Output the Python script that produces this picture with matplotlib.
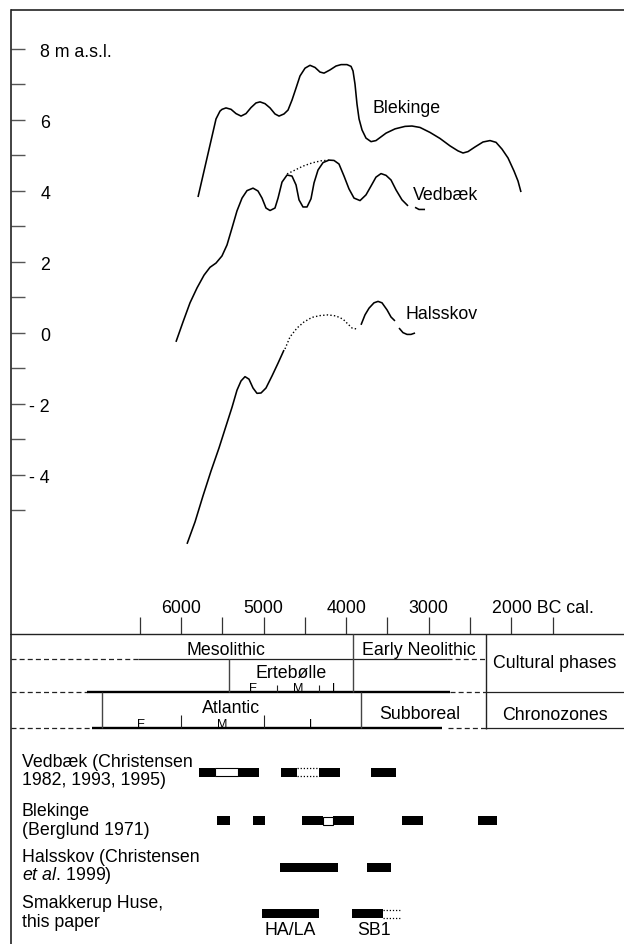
import matplotlib
matplotlib.use('Agg')
import matplotlib.pyplot as plt

plt.rcParams['font.family'] = ['Liberation Sans', 'DejaVu Sans']
plt.rcParams['mathtext.fontset'] = 'custom'
plt.rcParams['mathtext.rm'] = 'Liberation Sans'
plt.rcParams['mathtext.it'] = 'Liberation Sans:italic'
FS = 12.8

# ---------------- data: sea-level curves (years BC cal., m a.s.l.) ----------------
blekinge_year = [5794, 5576, 5528, 5503, 5455, 5394, 5334, 5273, 5213, 5152, 5092, 5043,
                 4983, 4922, 4862, 4813, 4753, 4704, 4656, 4607, 4559, 4498, 4438, 4377,
                 4317, 4268, 4196, 4123, 4062, 3990, 3941, 3917, 3893, 3869, 3844, 3808,
                 3760, 3699, 3639, 3517, 3408, 3287, 3203, 3106, 2985, 2864, 2742, 2646,
                 2585, 2524, 2440, 2343, 2258, 2185, 2113, 2040, 1967, 1919, 1883]
blekinge_m = [3.83, 6.03, 6.25, 6.30, 6.34, 6.30, 6.18, 6.11, 6.18, 6.35, 6.48, 6.51,
              6.46, 6.34, 6.17, 6.11, 6.17, 6.28, 6.56, 6.90, 7.24, 7.46, 7.54, 7.48,
              7.35, 7.32, 7.41, 7.52, 7.56, 7.56, 7.51, 7.38, 7.01, 6.45, 6.03, 5.72,
              5.49, 5.39, 5.42, 5.63, 5.75, 5.82, 5.83, 5.79, 5.65, 5.48, 5.27, 5.13,
              5.07, 5.11, 5.24, 5.38, 5.42, 5.37, 5.18, 4.93, 4.56, 4.28, 3.97]

vedbaek_year = [6061, 5976, 5891, 5806, 5721, 5649, 5576, 5504, 5443, 5382, 5322, 5261,
                5201, 5128, 5068, 5019, 4971, 4922, 4862, 4825, 4777, 4716, 4656, 4607,
                4571, 4523, 4474, 4426, 4389, 4341, 4280, 4208, 4147, 4087, 4026, 3966,
                3905, 3832, 3760, 3699, 3639, 3578, 3517, 3457, 3396, 3324, 3251]
vedbaek_m = [-0.25, 0.31, 0.85, 1.27, 1.63, 1.85, 1.97, 2.17, 2.48, 2.96, 3.44, 3.80,
             4.01, 4.08, 4.00, 3.80, 3.52, 3.45, 3.52, 3.80, 4.25, 4.45, 4.42, 4.17,
             3.75, 3.55, 3.55, 3.78, 4.23, 4.59, 4.80, 4.87, 4.86, 4.76, 4.42, 4.06,
             3.80, 3.73, 3.89, 4.14, 4.39, 4.49, 4.44, 4.31, 4.03, 3.75, 3.58]
vedbaek_tail_year = [3166, 3118, 3045]
vedbaek_tail_m = [3.54, 3.48, 3.48]
vedbaek_dot_year = [4716, 4619, 4523, 4414, 4305, 4196]
vedbaek_dot_m = [4.48, 4.59, 4.70, 4.79, 4.85, 4.87]

halsskov_low_year = [5927, 5830, 5734, 5637, 5540, 5455, 5382, 5322, 5273, 5225, 5177,
                     5128, 5080, 5031, 4971, 4898, 4825, 4753]
halsskov_low_m = [-5.94, -5.32, -4.59, -3.89, -3.24, -2.62, -2.09, -1.61, -1.35, -1.23,
                  -1.30, -1.55, -1.70, -1.69, -1.55, -1.21, -0.85, -0.48]
halsskov_dot_year = [4741, 4680, 4595, 4511, 4414, 4317, 4220, 4123, 4038, 3978, 3929, 3869]
halsskov_dot_m = [-0.45, -0.11, 0.14, 0.31, 0.44, 0.49, 0.51, 0.48, 0.39, 0.25, 0.14, 0.11]
halsskov_up_year = [3820, 3772, 3723, 3663, 3614, 3566, 3505, 3457, 3409]
halsskov_up_m = [0.23, 0.51, 0.70, 0.85, 0.89, 0.85, 0.65, 0.45, 0.34]
halsskov_tail_year = [3360, 3312, 3263, 3215, 3166]
halsskov_tail_m = [0.14, 0.01, -0.04, -0.04, 0.00]

curve_labels = ['Blekinge', 'Vedbæk', 'Halsskov']
curve_label_year = [3679, 3194, 3287]
curve_label_m = [6.22, 3.78, 0.42]

year_ticks = [6500, 6000, 5500, 5000, 4500, 4000, 3500, 3000, 2500, 2000, 1500]
year_labels = {6000: '6000', 5000: '5000', 4000: '4000', 3000: '3000', 2000: '2000 BC cal.'}
m_ticks = [8, 7, 6, 5, 4, 3, 2, 1, 0, -1, -2, -3, -4, -5]
m_labels = {8: '8 m a.s.l.', 6: '6', 4: '4', 2: '2', 0: '0', -2: '- 2', -4: '- 4'}

# ---------------- data: cultural phases / chronozones ----------------
meso_neo_boundary = 3920
ertebolle_start = 5420
ertebolle_sub = [4840, 4330]
ertebolle_sub_labels = ['E', 'M', 'L']
atlantic_start = 6960
atlantic_end = 3820
atlantic_sub = [6000, 5000]
atlantic_sub_labels = ['E', 'M', 'L']
column_edge = 2310

# ---------------- data: occupation / transgression bars ----------------
site_label_lines = [['Vedbæk (Christensen', '1982, 1993, 1995)'],
                    ['Blekinge', '(Berglund 1971)'],
                    ['Halsskov (Christensen', r'$\mathit{et\ al}$. 1999)'],
                    ['Smakkerup Huse,', 'this paper']]
vedbaek_solid = [(5780, 5590), (5310, 5060), (4790, 4590), (4330, 4070), (3700, 3400)]
vedbaek_open = [(5590, 5310)]
vedbaek_dotted = [(4590, 4330)]
blekinge_solid = [(5560, 5410), (5130, 4980), (4530, 4280), (4160, 3910), (3320, 3070), (2400, 2170)]
blekinge_open = [(4280, 4160)]
halsskov_solid = [(4800, 4100), (3750, 3460)]
smakkerup_solid = [(5020, 4330), (3930, 3560)]
smakkerup_dotted = [(3560, 3330)]
smakkerup_phase_labels = ['HA/LA', 'SB1']
smakkerup_phase_year = [4675, 3660]

# ---------------- layout ----------------
W, H = 624, 945
SPLIT = 635
XL = (8192, 635.5)
LEFT_FRAME = 8059
fig = plt.figure(figsize=(W / 100, H / 100), dpi=100)
ax = fig.add_axes([0, 1 - SPLIT / H, 1, SPLIT / H])
axb = fig.add_axes([0, 0, 1, (H - SPLIT) / H])
ax.set_xlim(*XL)
axb.set_xlim(*XL)
ax.set_ylim(-8.479, 9.408)
axb.set_ylim(H, SPLIT)
axb.axis('off')

LC = '#222222'
# upper frame
ax.spines['top'].set_visible(False)
ax.spines['right'].set_visible(False)
ax.spines['left'].set_position(('data', LEFT_FRAME))
ax.spines['left'].set_bounds(-8.479, 9.099)
ax.spines['left'].set_linewidth(1.2)
ax.spines['left'].set_color(LC)
ax.spines['bottom'].set_bounds(LEFT_FRAME, XL[1])
ax.spines['bottom'].set_linewidth(1.0)
ax.spines['bottom'].set_color(LC)
ax.hlines(9.099, LEFT_FRAME, XL[1], color=LC, lw=1.2)
ax.set_yticks(m_ticks)
ax.set_xticks(year_ticks)
ax.tick_params(axis='y', direction='in', length=10.1, width=1.0, colors='#555555', labelleft=False)
ax.tick_params(axis='x', direction='in', length=12.2, width=0.9, colors='#333333', labelbottom=False)

for t, s in m_labels.items():
    if t == 8:
        ax.text(7704, t - 0.186, s, ha='left', va='baseline', fontsize=FS)
    else:
        ax.text(7586, t - 0.186, s, ha='right', va='baseline', fontsize=FS)
for t, s in year_labels.items():
    if t == 2000:
        ax.text(2240, -7.868, s, ha='left', va='baseline', fontsize=FS)
    else:
        ax.text(t, -7.868, s, ha='center', va='baseline', fontsize=FS)

# curves
kw = dict(color='black', lw=1.15, solid_joinstyle='round', solid_capstyle='butt')
dkw = dict(color='black', lw=1.0, ls=(0, (1, 1.6)))
ax.plot(blekinge_year, blekinge_m, **kw)
ax.plot(vedbaek_year, vedbaek_m, **kw)
ax.plot(vedbaek_tail_year, vedbaek_tail_m, **kw)
ax.plot(vedbaek_dot_year, vedbaek_dot_m, **dkw)
ax.plot(halsskov_low_year, halsskov_low_m, **kw)
ax.plot(halsskov_dot_year, halsskov_dot_m, **dkw)
ax.plot(halsskov_up_year, halsskov_up_m, **kw)
ax.plot(halsskov_tail_year, halsskov_tail_m, **kw)
for s, x, y in zip(curve_labels, curve_label_year, curve_label_m):
    ax.text(x, y, s, ha='left', va='baseline', fontsize=FS)

# ---------------- table ----------------
dash = (0, (4, 2.5))
axb.vlines(LEFT_FRAME, SPLIT, H, color=LC, lw=1.2)
axb.hlines(660, LEFT_FRAME, 6520, color=LC, lw=0.9, linestyles=dash)
axb.hlines(660, 6520, 2780, color=LC, lw=0.9)
axb.hlines(660, 2780, column_edge, color=LC, lw=0.9, linestyles=dash)
axb.hlines(693, LEFT_FRAME, 7140, color=LC, lw=0.9, linestyles=dash)
axb.hlines(693, 7140, 2740, color='black', lw=1.7)
axb.hlines(693, 2740, column_edge, color=LC, lw=0.9, linestyles=dash)
axb.hlines(693, column_edge, XL[1], color=LC, lw=0.9)
axb.hlines(729, LEFT_FRAME, 7080, color=LC, lw=0.9, linestyles=dash)
axb.hlines(729, 7080, 2840, color='black', lw=1.7)
axb.hlines(729, 2770, column_edge, color=LC, lw=0.9, linestyles=dash)
axb.hlines(729, column_edge, XL[1], color=LC, lw=0.9)

axb.vlines(meso_neo_boundary, SPLIT, 693, color='#444444', lw=1.0)
axb.vlines(ertebolle_start, 660, 693, color='#444444', lw=1.0)
axb.vlines(ertebolle_sub, 686, 693, color=LC, lw=0.8)
axb.vlines([atlantic_start, atlantic_end], 693, 729, color='#444444', lw=1.0)
axb.vlines(atlantic_sub, 716, 729, color=LC, lw=0.8)
axb.vlines(column_edge, SPLIT, 730, color=LC, lw=1.0)

axb.text(5457, 655.3, 'Mesolithic', ha='center', va='baseline', fontsize=FS)
axb.text(3126, 655.3, 'Early Neolithic', ha='center', va='baseline', fontsize=FS)
axb.text((ertebolle_start + meso_neo_boundary) / 2, 678.3, 'Ertebølle', ha='center', va='baseline', fontsize=FS)
axb.text((column_edge + XL[1]) / 2, 668.3, 'Cultural phases', ha='center', va='baseline', fontsize=FS)
axb.text((atlantic_start + atlantic_end) / 2, 713.3, 'Atlantic', ha='center', va='baseline', fontsize=FS)
axb.text(3106, 719, 'Subboreal', ha='center', va='baseline', fontsize=FS)
axb.text((column_edge + XL[1]) / 2, 720, 'Chronozones', ha='center', va='baseline', fontsize=FS)

eb = [ertebolle_start] + ertebolle_sub + [meso_neo_boundary]
for i, s in enumerate(ertebolle_sub_labels):
    axb.text((eb[i] + eb[i + 1]) / 2, 691.5, s, ha='center', va='baseline', fontsize=9)
ab = [atlantic_start] + atlantic_sub + [atlantic_end]
for i, s in enumerate(atlantic_sub_labels):
    axb.text((ab[i] + ab[i + 1]) / 2, 727.5, s, ha='center', va='baseline', fontsize=9)

# ---------------- site bars ----------------
row_y = [773, 821.5, 868.5, 914.5]
BH = 9
label_x = 7929
label_base = [(767.3, 785.5), (816, 835), (862.3, 880.5), (908.3, 926.7)]
for lines, bases in zip(site_label_lines, label_base):
    for s, yb in zip(lines, bases):
        axb.text(label_x, yb, s, ha='left', va='baseline', fontsize=FS)


def solid(row, spans):
    for a, b in spans:
        axb.barh(row, b - a, left=a, height=BH, color='black', lw=0)


def open_(row, spans):
    for a, b in spans:
        axb.barh(row, b - a, left=a, height=BH - 1, color='white', edgecolor='black', lw=0.8)


def dotted(row, spans):
    for a, b in spans:
        axb.hlines([row - BH / 2 + 0.5, row + BH / 2 - 0.5], a, b, color='black', lw=0.9,
                   linestyles=(0, (1, 1.5)))


solid(row_y[0], vedbaek_solid)
open_(row_y[0], vedbaek_open)
dotted(row_y[0], vedbaek_dotted)
solid(row_y[1], blekinge_solid)
open_(row_y[1], blekinge_open)
solid(row_y[2], halsskov_solid)
solid(row_y[3], smakkerup_solid)
dotted(row_y[3], smakkerup_dotted)
for s, x in zip(smakkerup_phase_labels, smakkerup_phase_year):
    axb.text(x, 935, s, ha='center', va='baseline', fontsize=FS)

fig.savefig('out.png', dpi=100)
